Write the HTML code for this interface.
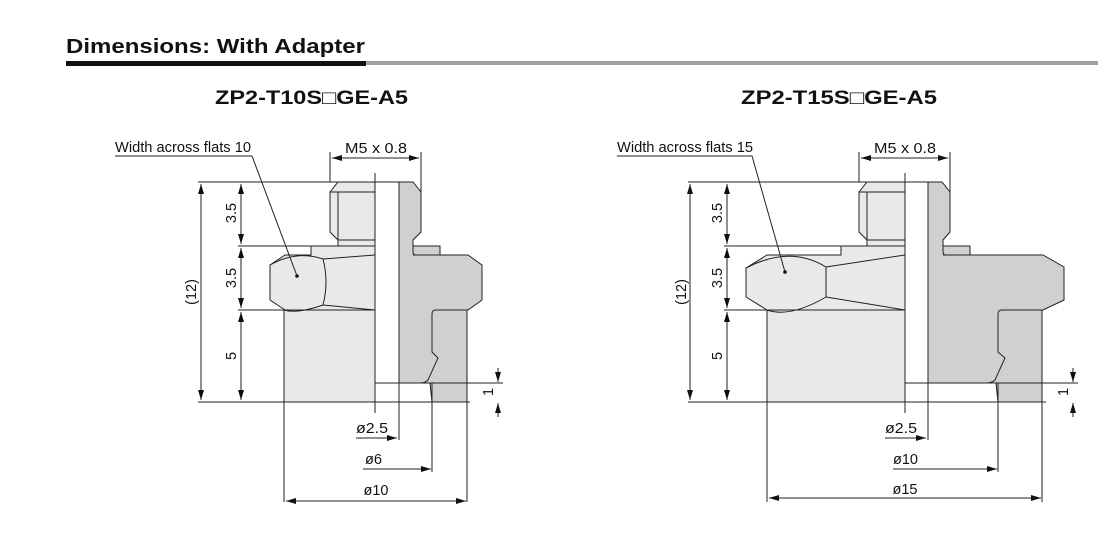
<!DOCTYPE html>
<html><head><meta charset="utf-8"><style>
html,body{margin:0;padding:0;background:#fff;}
svg{display:block;font-family:"Liberation Sans",Arial,sans-serif;}
</style></head><body>
<svg width="1106" height="542" viewBox="0 0 1106 542" xmlns="http://www.w3.org/2000/svg">
<defs>
<marker id="a" viewBox="0 0 10 6" refX="10" refY="3" markerWidth="10" markerHeight="6" orient="auto-start-reverse" markerUnits="userSpaceOnUse"><path d="M0,0 L10,3 L0,6 Z" fill="#111"/></marker>
</defs>
<text x="66" y="53" font-size="20" font-weight="bold" fill="#111" textLength="299" lengthAdjust="spacingAndGlyphs">Dimensions: With Adapter</text>
<rect x="66" y="61" width="300" height="5" fill="#111"/>
<rect x="366" y="61" width="732" height="4" fill="#a0a0a0"/>
<text x="215" y="104" font-size="19" font-weight="bold" fill="#111" textLength="193" lengthAdjust="spacingAndGlyphs">ZP2-T10S□GE-A5</text>
<text x="741" y="104" font-size="19" font-weight="bold" fill="#111" textLength="196" lengthAdjust="spacingAndGlyphs">ZP2-T15S□GE-A5</text>

<g stroke="#222" stroke-width="1" fill="none">
<path d="M338,182 L375,182 L375,402 L284,402 L284,310 L285,310 L270,300 L270,265 L285,255 L311,255 L311,246 L338,246 L338,240 L330,232 L330,192 Z" fill="#e8e9e9"/>
<path d="M399,182 L413,182 L421,192 L421,232 L413,240 L413,246 L440,246 L440,255 L468,255 L482,265 L482,300 L468,310 L467,310 L467,402 L432,402 L430,383 L399,383 Z" fill="#d0d0d0"/>
<path d="M330,192 L375,192 M338,192 L338,240 M338,240 L375,240 M311,246 L375,246 M413,246 L413,252 Q413,255 416,255 M413,255 L440,255"/>
<path d="M270,265 Q297,250 323,259 Q329,282 323,305 Q297,314 284,310 M323,259 L375,255 M323,305 L375,310 M284,310 L375,310 M285,255 L311,255"/>
<path d="M467,310 L436,310 Q432,310 432,314 L432,352 L438,358 L428,380 Q425,383 420,383 M399,383 L420,383"/>
<path d="M375,173 L375,413 M399,182 L399,440 M432,383 L432,472 M467,402 L467,502 M284,402 L284,502"/>
<path d="M198,182 L413,182 M198,402 L470,402 M238,246 L311,246 M238,310 L284,310 M375,383 L503,383"/>
<path d="M330,182 L330,152 M421,192 L421,152"/>
<path d="M332,158 L419,158" marker-start="url(#a)" marker-end="url(#a)"/>
<path d="M201,184 L201,400" marker-start="url(#a)" marker-end="url(#a)"/>
<path d="M241,184 L241,244" marker-start="url(#a)" marker-end="url(#a)"/>
<path d="M241,248 L241,308" marker-start="url(#a)" marker-end="url(#a)"/>
<path d="M241,312 L241,400" marker-start="url(#a)" marker-end="url(#a)"/>
<path d="M498,368 L498,382" marker-end="url(#a)"/>
<path d="M498,417 L498,403" marker-end="url(#a)"/>
<path d="M356,438 L397,438" marker-end="url(#a)"/>
<path d="M363,469 L431,469" marker-end="url(#a)"/>
<path d="M286,501 L466,501" marker-start="url(#a)" marker-end="url(#a)"/>
<path d="M115,156 L252,156 L297,276"/>

<path d="M867,182 L905,182 L905,402 L767,402 L767,310 L746,297 L746,268 L767,255 L841,255 L841,246 L867,246 L867,240 L859,232 L859,192 Z" fill="#e8e9e9"/>
<path d="M928,182 L942,182 L950,192 L950,232 L943,240 L943,246 L970,246 L970,255 L1043,255 L1064,267 L1064,300 L1043,310 L1042,310 L1042,402 L998,402 L996,383 L928,383 Z" fill="#d0d0d0"/>
<path d="M859,192 L905,192 M867,192 L867,240 M867,240 L905,240 M841,246 L905,246 M943,246 L943,252 Q943,255 946,255 M943,255 L970,255"/>
<path d="M746,268 Q790,245 826,267 L826,297 Q790,318 767,310 M826,267 L905,255 M826,297 L905,310 M767,310 L905,310"/>
<path d="M1042,310 L1002,310 Q998,310 998,314 L998,352 L1005,358 L995,380 Q992,383 986,383 M928,383 L986,383"/>
<path d="M905,173 L905,413 M928,182 L928,440 M998,383 L998,472 M1042,402 L1042,502 M767,402 L767,502"/>
<path d="M688,182 L942,182 M688,402 L1046,402 M724,246 L841,246 M724,310 L767,310 M905,383 L1078,383"/>
<path d="M859,182 L859,152 M950,192 L950,152"/>
<path d="M861,158 L948,158" marker-start="url(#a)" marker-end="url(#a)"/>
<path d="M690,184 L690,400" marker-start="url(#a)" marker-end="url(#a)"/>
<path d="M727,184 L727,244" marker-start="url(#a)" marker-end="url(#a)"/>
<path d="M727,248 L727,308" marker-start="url(#a)" marker-end="url(#a)"/>
<path d="M727,312 L727,400" marker-start="url(#a)" marker-end="url(#a)"/>
<path d="M1073,368 L1073,382" marker-end="url(#a)"/>
<path d="M1073,417 L1073,403" marker-end="url(#a)"/>
<path d="M885,438 L926,438" marker-end="url(#a)"/>
<path d="M893,469 L997,469" marker-end="url(#a)"/>
<path d="M769,498 L1041,498" marker-start="url(#a)" marker-end="url(#a)"/>
<path d="M617,156 L752,156 L785,272"/>
</g>
<circle cx="297" cy="276" r="1.8" fill="#111"/>
<circle cx="785" cy="272" r="1.8" fill="#111"/>

<g font-size="14.5" fill="#111">
<text x="115" y="152" textLength="136" lengthAdjust="spacingAndGlyphs">Width across flats 10</text>
<text x="617" y="152" textLength="136" lengthAdjust="spacingAndGlyphs">Width across flats 15</text>
<text x="345" y="153" textLength="62" lengthAdjust="spacingAndGlyphs">M5 x 0.8</text>
<text x="874" y="153" textLength="62" lengthAdjust="spacingAndGlyphs">M5 x 0.8</text>
<text transform="translate(236,213) rotate(-90)" text-anchor="middle">3.5</text>
<text transform="translate(236,278) rotate(-90)" text-anchor="middle">3.5</text>
<text transform="translate(236,356) rotate(-90)" text-anchor="middle">5</text>
<text transform="translate(196,292) rotate(-90)" text-anchor="middle">(12)</text>
<text transform="translate(722,213) rotate(-90)" text-anchor="middle">3.5</text>
<text transform="translate(722,278) rotate(-90)" text-anchor="middle">3.5</text>
<text transform="translate(722,356) rotate(-90)" text-anchor="middle">5</text>
<text transform="translate(686,292) rotate(-90)" text-anchor="middle">(12)</text>
<text transform="translate(493,392) rotate(-90)" text-anchor="middle">1</text>
<text transform="translate(1068,392) rotate(-90)" text-anchor="middle">1</text>
<text x="356" y="433" textLength="32" lengthAdjust="spacingAndGlyphs">ø2.5</text>
<text x="365" y="464">ø6</text>
<text x="376" y="495" text-anchor="middle">ø10</text>
<text x="885" y="433" textLength="32" lengthAdjust="spacingAndGlyphs">ø2.5</text>
<text x="893" y="464">ø10</text>
<text x="905" y="494" text-anchor="middle">ø15</text>
</g>
</svg>
</body></html>
